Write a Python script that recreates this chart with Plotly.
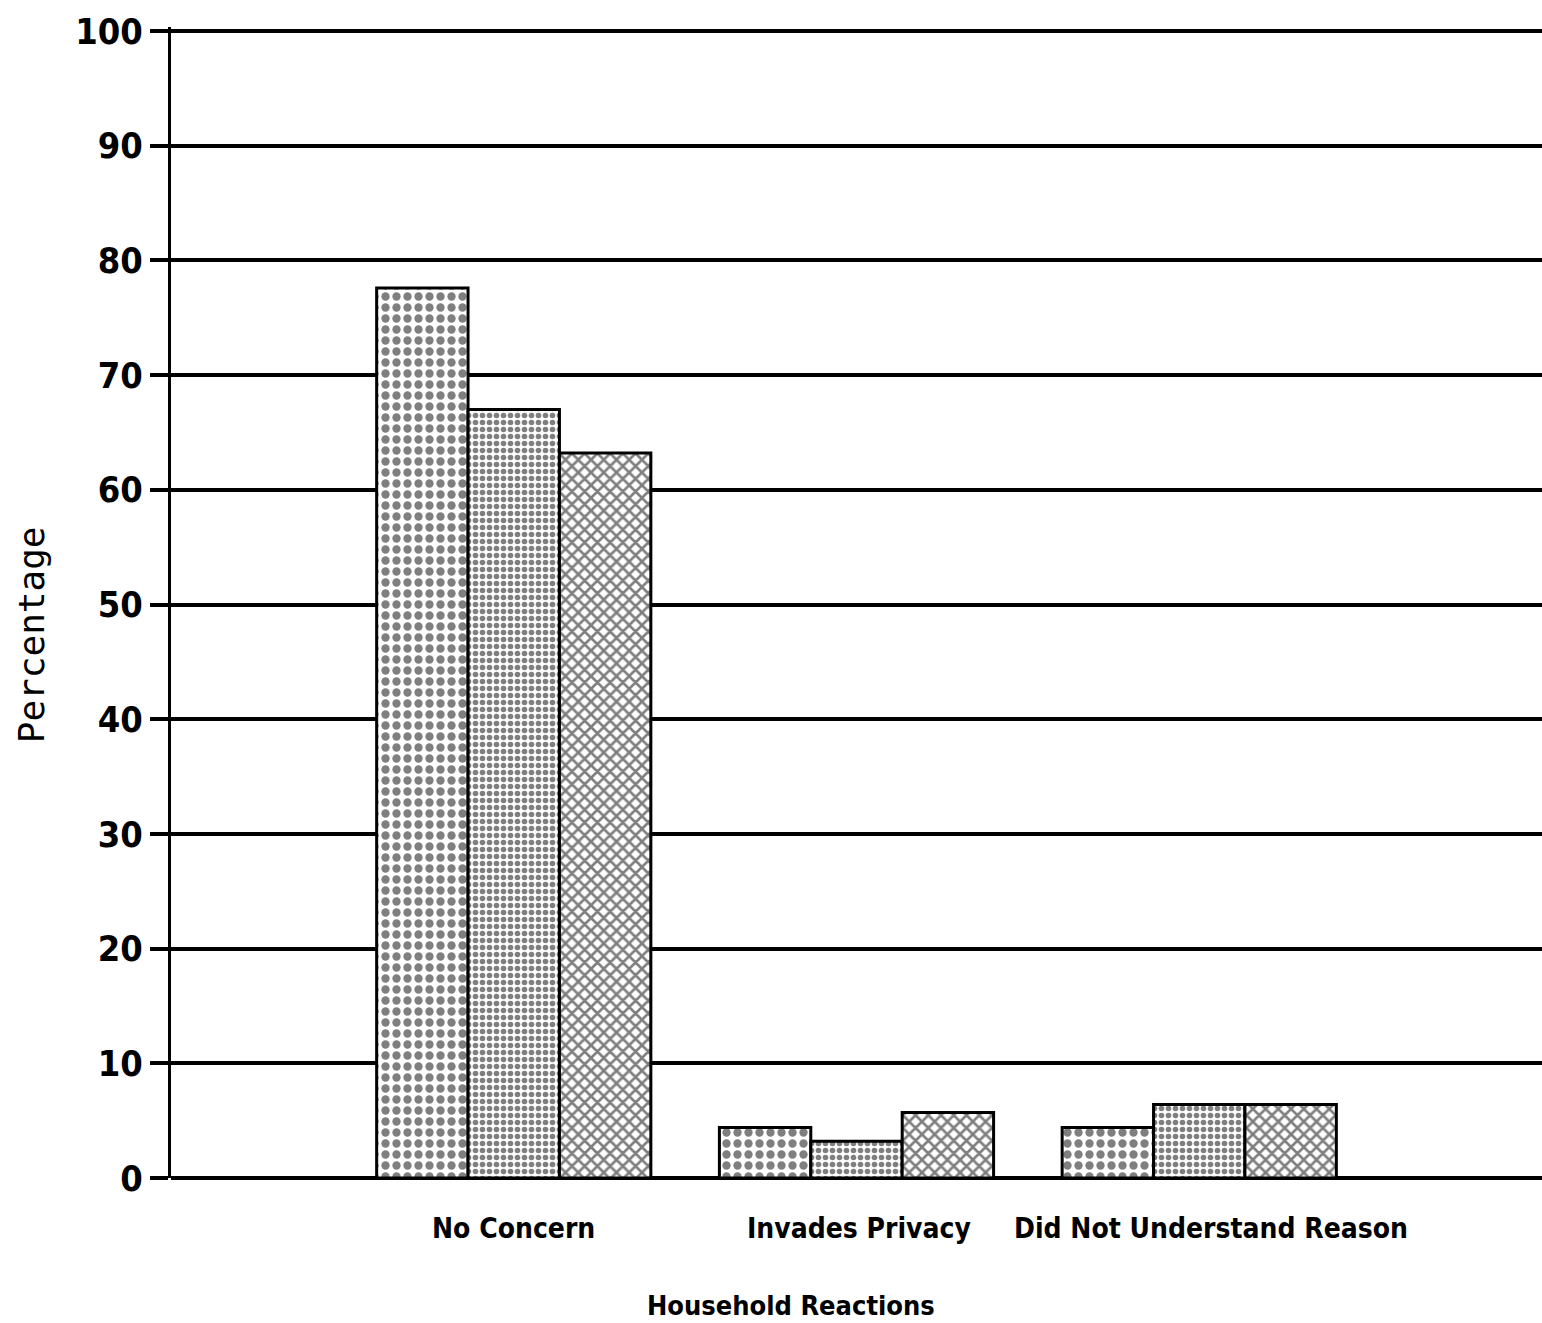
import plotly.graph_objects as go

categories = ["No Concern", "Invades Privacy", "Did Not Understand Reason"]
series_a = [77.6, 4.4, 4.4]
series_b = [67.0, 3.2, 6.4]
series_c = [63.2, 5.7, 6.4]
y_ticks = [0, 10, 20, 30, 40, 50, 60, 70, 80, 90, 100]

cond = "DejaVu Sans Condensed, Liberation Sans Narrow, DejaVu Sans, sans-serif"
mono = "DejaVu Sans Mono, Liberation Mono, monospace"

x_pos = list(range(len(categories)))

fig = go.Figure()
patterns = [
    dict(shape=".", size=11, solidity=0.45, fgcolor="black", bgcolor="white"),
    dict(shape=".", size=7, solidity=0.5, fgcolor="black", bgcolor="white"),
    dict(shape="x", size=9, solidity=0.5, fgcolor="black", bgcolor="white"),
]
for vals, pat in zip([series_a, series_b, series_c], patterns):
    fig.add_trace(go.Bar(
        x=x_pos, y=vals,
        marker=dict(color="white", pattern=pat, line=dict(color="black", width=3)),
        showlegend=False,
    ))

annotations = []
label_shift = [0, 2, 12]
for xp, lab, sh in zip(x_pos, categories, label_shift):
    annotations.append(dict(
        x=xp, xref="x", y=-0.0436, yref="paper", xshift=sh,
        text=lab, showarrow=False, xanchor="center", yanchor="middle",
        font=dict(family=cond, size=28, color="black", weight="bold"),
    ))
annotations.append(dict(
    x=0.452, xref="paper", y=-0.1107, yref="paper",
    text="Household Reactions", showarrow=False, xanchor="center", yanchor="middle",
    font=dict(family=cond, size=27, color="black", weight="bold"),
))
annotations.append(dict(
    x=-0.102, xref="paper", y=0.4717, yref="paper", textangle=-90,
    text="Percentage", showarrow=False, xanchor="center", yanchor="middle",
    font=dict(family=mono, size=36, color="black"),
))

fig.update_layout(
    width=1542, height=1323,
    paper_bgcolor="white", plot_bgcolor="white",
    margin=dict(l=171, r=0, t=27, b=145, autoexpand=False),
    barmode="group", bargap=0.2, bargroupgap=0,
    annotations=annotations,
    xaxis=dict(
        range=[-1, 3.0], automargin=False,
        tickmode="array", tickvals=x_pos, showticklabels=False, ticks="",
        showgrid=False, zeroline=False, showline=False,
    ),
    yaxis=dict(
        range=[0, 100.35], automargin=False,
        tickmode="array", tickvals=y_ticks,
        ticks="outside", ticklen=18, tickwidth=4, tickcolor="black",
        tickfont=dict(family=cond, size=36, color="black", weight="bold"),
        showgrid=True, gridcolor="black", gridwidth=4,
        zeroline=True, zerolinecolor="black", zerolinewidth=4,
        showline=True, linecolor="black", linewidth=3,
    ),
)

fig.write_html(
    "out.html",
    config={"displayModeBar": False},
    post_script="document.body.style.margin='0';document.body.style.overflow='hidden';",
)
